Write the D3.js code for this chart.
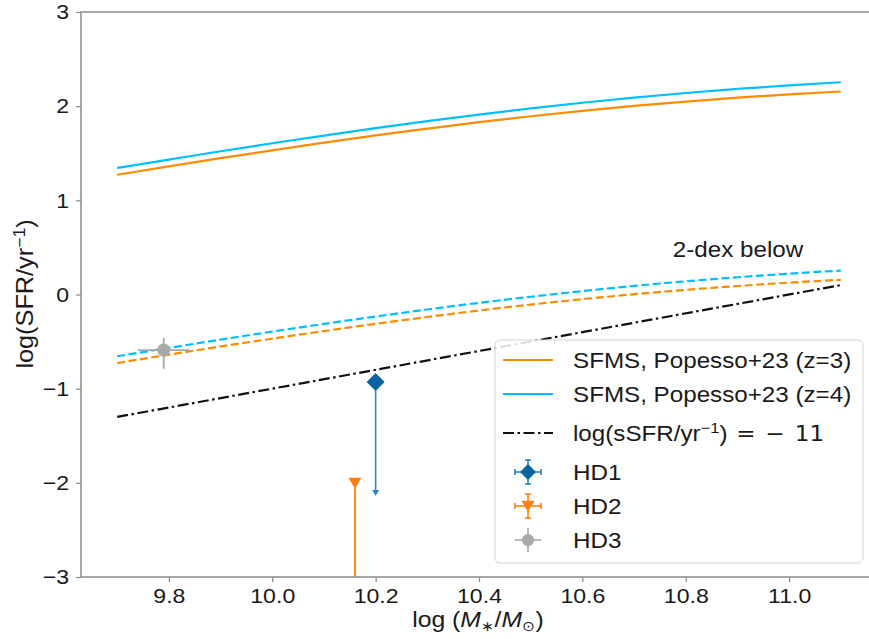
<!DOCTYPE html>
<html>
<head>
<meta charset="utf-8">
<script src="https://cdn.jsdelivr.net/npm/d3@7"></script>
<style>
  html, body { margin: 0; padding: 0; background: #fff; }
  svg { display: block; }
  text { font-family: "Liberation Sans", Arial, sans-serif; fill: #1a1a1a; }
</style>
</head>
<body>
<svg id="chart" width="869" height="639"></svg>
<script>
// Stellar-mass grid (log M*/Msun) for the main-sequence curves
const massGrid = [9.7, 9.8, 9.9, 10.0, 10.1, 10.2, 10.3, 10.4, 10.5, 10.6, 10.7, 10.8, 10.9, 11.0, 11.1];
// SFMS, Popesso+23, log SFR at z=3 and z=4
const sfmsZ3 = [1.272, 1.361, 1.448, 1.531, 1.612, 1.689, 1.761, 1.830, 1.893, 1.950, 2.003, 2.049, 2.090, 2.126, 2.156];
const sfmsZ4 = [1.344, 1.433, 1.521, 1.606, 1.688, 1.766, 1.841, 1.911, 1.976, 2.036, 2.091, 2.140, 2.183, 2.221, 2.254];
// The same relations shifted 2 dex below
const belowZ3 = [-0.728, -0.639, -0.552, -0.469, -0.388, -0.311, -0.239, -0.170, -0.107, -0.050, 0.003, 0.049, 0.090, 0.126, 0.156];
const belowZ4 = [-0.656, -0.567, -0.479, -0.394, -0.312, -0.234, -0.159, -0.089, -0.024, 0.036, 0.091, 0.140, 0.183, 0.221, 0.254];
// log(sSFR/yr^-1) = -11 line
const ssfrMass = [9.7, 11.1];
const ssfrSFR = [-1.3, 0.1];

// Galaxies
const galaxyNames = ["HD1", "HD2", "HD3"];
const galaxyMass = [10.2, 10.16, 9.79];
const galaxySFR = [-0.93, -2.0, -0.59];
const galaxyLimit = [-2.13, -3.6, null];      // upper limits: arrow drawn down to this value
const hd3MassErr = [0.05, 0.05];              // minus, plus
const hd3SFRErr = [0.2, 0.13];                // minus, plus

const xTicks = [9.8, 10.0, 10.2, 10.4, 10.6, 10.8, 11.0];
const yTicks = [-3, -2, -1, 0, 1, 2, 3];

const legendLabels = ["SFMS, Popesso+23 (z=3)", "SFMS, Popesso+23 (z=4)", "ssfr", "HD1", "HD2", "HD3"];

// colours
const cOrange = "#ff8c00", cBlue = "#00bfff";
const cHD1 = "#0b63a0", cHD1err = "#2b86c2", cHD2 = "#ff7f0e", cHD3 = "#a9a9a9";
const spineColor = "#8a8a8a";
const SX = 1.1; // horizontal glyph widening for all labels

const svg = d3.select("#chart");
const M = { left: 81, top: 12, right: 877, bottom: 577 };
const x = d3.scaleLinear().domain([9.63, 11.17]).range([M.left, M.right]);
const y = d3.scaleLinear().domain([-3, 3]).range([M.bottom, M.top]);

svg.append("defs").append("clipPath").attr("id", "plotclip")
  .append("rect").attr("x", M.left).attr("y", M.top)
  .attr("width", M.right - M.left).attr("height", M.bottom - M.top);

const plot = svg.append("g").attr("clip-path", "url(#plotclip)");

const line = d3.line().x(d => x(d[0])).y(d => y(d[1])).curve(d3.curveMonotoneX);
const zip = (a, b) => a.map((v, i) => [v, b[i]]);

function drawLine(g, xs, ys, color, dash, width) {
  g.append("path").datum(zip(xs, ys))
    .attr("d", line).attr("fill", "none")
    .attr("stroke", color).attr("stroke-width", width || 2.2)
    .attr("stroke-dasharray", dash || null);
}

drawLine(plot, massGrid, sfmsZ3, cOrange);
drawLine(plot, massGrid, sfmsZ4, cBlue);
drawLine(plot, massGrid, belowZ3, cOrange, "8,3.5");
drawLine(plot, massGrid, belowZ4, cBlue, "8,3.5");
drawLine(plot, ssfrMass, ssfrSFR, "#111", "11,3.5,2.5,3.5", 2.2);

// marker shapes
function marker(g, kind, cx, cy, color, s) {
  if (kind === "diamond") {
    g.append("path").attr("d", `M${cx},${cy - s}L${cx + s},${cy}L${cx},${cy + s}L${cx - s},${cy}Z`).attr("fill", color);
  } else if (kind === "tri") {
    g.append("path").attr("d", `M${cx - s},${cy - s * 0.8}L${cx + s},${cy - s * 0.8}L${cx},${cy + s * 0.9}Z`).attr("fill", color);
  } else {
    g.append("circle").attr("cx", cx).attr("cy", cy).attr("r", s).attr("fill", color);
  }
}

// HD1: upper limit
{
  const px = x(galaxyMass[0]), py = y(galaxySFR[0]), pe = y(galaxyLimit[0]);
  plot.append("line").attr("x1", px).attr("x2", px).attr("y1", py).attr("y2", pe - 2)
    .attr("stroke", cHD1err).attr("stroke-width", 1.6);
  plot.append("path").attr("d", `M${px - 3.5},${pe - 5}L${px + 3.5},${pe - 5}L${px},${pe + 1}Z`).attr("fill", cHD1err);
  marker(plot, "diamond", px, py, cHD1, 9);
}
// HD2: upper limit running off the bottom
{
  const px = x(galaxyMass[1]), py = y(galaxySFR[1]), pe = y(galaxyLimit[1]);
  plot.append("line").attr("x1", px).attr("x2", px).attr("y1", py).attr("y2", pe)
    .attr("stroke", cHD2).attr("stroke-width", 1.8);
  marker(plot, "tri", px, py, cHD2, 6.5);
}
// HD3 with error bars
{
  const px = x(galaxyMass[2]), py = y(galaxySFR[2]);
  const g = plot.append("g").attr("stroke", cHD3).attr("stroke-width", 1.8);
  g.append("line").attr("x1", x(galaxyMass[2] - hd3MassErr[0])).attr("x2", x(galaxyMass[2] + hd3MassErr[1]))
    .attr("y1", py).attr("y2", py);
  g.append("line").attr("x1", px).attr("x2", px)
    .attr("y1", y(galaxySFR[2] - hd3SFRErr[0])).attr("y2", y(galaxySFR[2] + hd3SFRErr[1]));
  marker(plot, "circle", px, py, cHD3, 6.5);
}

// text helper: anchored, horizontally widened
function label(parent, tx, ty, size, anchor, rotate) {
  const g = parent.append("g")
    .attr("transform", `translate(${tx},${ty})${rotate ? ` rotate(${rotate})` : ""} scale(${SX},1)`);
  return g.append("text").attr("font-size", size).attr("text-anchor", anchor || "start");
}

// annotation
label(svg, x(10.775), y(0.40), 22, "start").text("2-dex below");

// axes
const xAxis = d3.axisBottom(x).tickValues(xTicks).tickSize(5).tickPadding(6).tickFormat(d3.format(".1f"));
const yAxis = d3.axisLeft(y).tickValues(yTicks).tickSize(5).tickPadding(6).tickFormat(d => d < 0 ? "\u2212" + Math.abs(d) : d);

const gx = svg.append("g").attr("transform", `translate(0,${M.bottom})`).call(xAxis);
const gy = svg.append("g").attr("transform", `translate(${M.left},0)`).call(yAxis);
[gx, gy].forEach(g => {
  g.select(".domain").remove();
  g.selectAll(".tick line").attr("stroke", spineColor).attr("stroke-width", 1.2);
  g.selectAll(".tick text").attr("font-size", 21).attr("fill", "#1a1a1a")
    .attr("font-family", "Liberation Sans, Arial, sans-serif");
});
gx.selectAll(".tick text").attr("transform", `scale(${SX},1)`);
gy.selectAll(".tick text").attr("transform", `translate(-1,0) scale(${SX},1)`).attr("x", -10);

// spines
const sp = svg.append("g").attr("stroke", spineColor).attr("stroke-width", 1.5).attr("fill", "none");
sp.append("rect").attr("x", M.left).attr("y", M.top).attr("width", M.right - M.left).attr("height", M.bottom - M.top);

// axis titles
{
  const t = label(svg, 478, 627, 22.5, "middle");
  t.append("tspan").text("log (");
  t.append("tspan").attr("font-style", "italic").text("M");
  t.append("tspan").attr("font-size", 14).attr("dy", 4).text("\u2217");
  t.append("tspan").attr("dy", -4).text("/");
  t.append("tspan").attr("font-style", "italic").text("M");
  t.append("tspan").attr("font-size", 14).attr("dy", 4).text("\u2299");
  t.append("tspan").attr("dy", -4).text(")");
}
{
  const t = label(svg, 33, 294, 23, "middle", -90);
  t.append("tspan").text("log(SFR/yr");
  t.append("tspan").attr("font-size", 16).attr("dy", -8).text("\u22121");
  t.append("tspan").attr("dy", 8).text(")");
}

// legend
const lg = svg.append("g");
lg.append("rect").attr("x", 495).attr("y", 340).attr("width", 368).attr("height", 223)
  .attr("rx", 5).attr("fill", "#fff").attr("fill-opacity", 0.85)
  .attr("stroke", "#d4d4d4").attr("stroke-width", 1);
const rowY = [360, 394, 433, 472, 506, 540];
const hx0 = 503, hx1 = 553, hxc = 528, tx = 573;

lg.append("line").attr("x1", hx0).attr("x2", hx1).attr("y1", rowY[0]).attr("y2", rowY[0]).attr("stroke", cOrange).attr("stroke-width", 2.2);
lg.append("line").attr("x1", hx0).attr("x2", hx1).attr("y1", rowY[1]).attr("y2", rowY[1]).attr("stroke", cBlue).attr("stroke-width", 2.2);
lg.append("line").attr("x1", hx0).attr("x2", hx1).attr("y1", rowY[2]).attr("y2", rowY[2]).attr("stroke", "#111")
  .attr("stroke-width", 2.2).attr("stroke-dasharray", "11,3.5,2.5,3.5");

function errHandle(cy, color, caps) {
  const g = lg.append("g").attr("stroke", color).attr("stroke-width", 1.6);
  g.append("line").attr("x1", hxc - 13).attr("x2", hxc + 13).attr("y1", cy).attr("y2", cy);
  g.append("line").attr("x1", hxc).attr("x2", hxc).attr("y1", cy - 12).attr("y2", cy + 12);
  if (caps) {
    g.append("line").attr("x1", hxc - 13).attr("x2", hxc - 13).attr("y1", cy - 3).attr("y2", cy + 3);
    g.append("line").attr("x1", hxc + 13).attr("x2", hxc + 13).attr("y1", cy - 3).attr("y2", cy + 3);
    g.append("line").attr("x1", hxc - 3).attr("x2", hxc + 3).attr("y1", cy - 12).attr("y2", cy - 12);
    g.append("line").attr("x1", hxc - 3).attr("x2", hxc + 3).attr("y1", cy + 12).attr("y2", cy + 12);
  }
}
errHandle(rowY[3], cHD1err, true);
marker(lg, "diamond", hxc, rowY[3], cHD1, 8);
errHandle(rowY[4], cHD2, true);
marker(lg, "tri", hxc, rowY[4], cHD2, 6.5);
errHandle(rowY[5], cHD3, false);
marker(lg, "circle", hxc, rowY[5], cHD3, 6);

[0, 1, 3, 4, 5].forEach(i => {
  label(lg, tx, rowY[i] + 7.5, 22, "start").text(i < 3 ? legendLabels[i] : galaxyNames[i - 3]);
});
{
  const t = label(lg, tx, rowY[2] + 7.5, 22, "start");
  t.append("tspan").text("log(sSFR/yr");
  t.append("tspan").attr("font-size", 15).attr("dy", -8).text("\u22121");
  t.append("tspan").attr("dy", 8).text(")");
  const math = { "font-family": "DejaVu Sans", "font-size": 21 };
  t.append("tspan").attr("dx", 8).attr("font-family", math["font-family"]).attr("font-size", math["font-size"]).text("=");
  t.append("tspan").attr("dx", 9).attr("font-family", math["font-family"]).attr("font-size", math["font-size"]).text("\u2212");
  t.append("tspan").attr("dx", 9).attr("font-family", math["font-family"]).attr("font-size", math["font-size"]).text("11");
}
</script>
</body>
</html>
